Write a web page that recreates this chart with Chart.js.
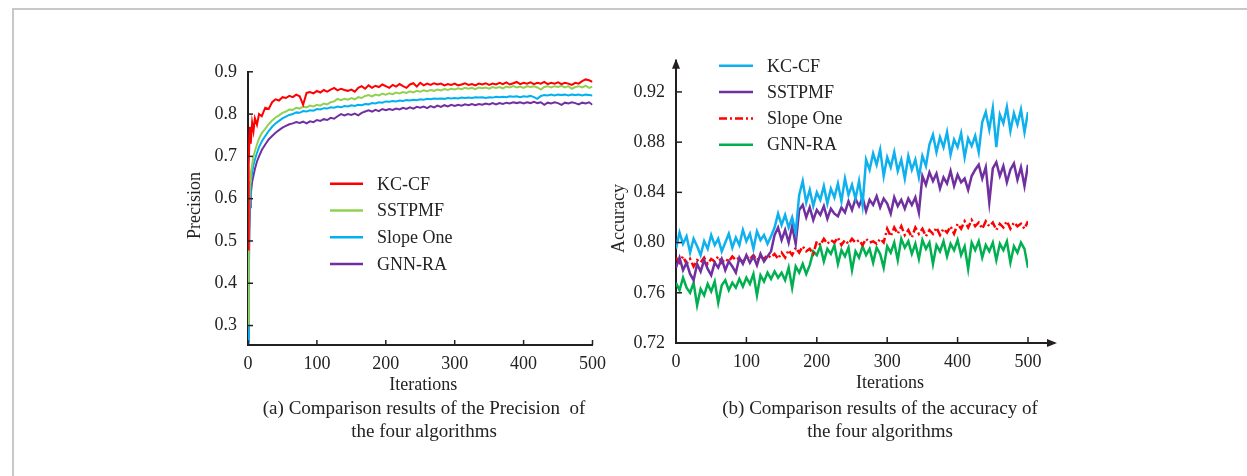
<!DOCTYPE html>
<html>
<head>
<meta charset="utf-8">
<script src="https://cdn.jsdelivr.net/npm/chart.js@4.4.1/dist/chart.umd.min.js"></script>
<style>
  body { margin: 0; background: #fff; width: 1247px; height: 476px; overflow: hidden; position: relative; }
  .frame { position: absolute; left: 12px; top: 8px; width: 1300px; height: 500px; border-top: 2px solid #c8c8c8; border-left: 2px solid #c8c8c8; }
  canvas { position: absolute; }
  .cap { position: absolute; width: 420px; text-align: center; font: 19px "Liberation Serif", serif; line-height: 23px; color: #222; white-space: pre; }
</style>
</head>
<body>
<div class="frame"></div>
<canvas id="precChart" width="434" height="350" style="left:180px;top:50px"></canvas>
<canvas id="accChart" width="470" height="360" style="left:600px;top:40px"></canvas>
<div class="cap" style="left:214px;top:396px">(a) Comparison results of the Precision  of
the four algorithms</div>
<div class="cap" style="left:670px;top:396px">(b) Comparison results of the accuracy of
the four algorithms</div>
<script>
// ---- (a) precision ----
const precIters = [0, 1, 2, 3, 4, 6, 8, 10, 13, 16, 20, 25, 30, 35, 40,
  45, 50, 55, 60, 65, 70, 75, 80, 85, 90, 95, 100, 105, 110, 115, 120, 125, 130, 135, 140, 145,
  150, 155, 160, 165, 170, 175, 180, 185, 190, 195, 200, 205, 210, 215, 220, 225, 230, 235, 240, 245,
  250, 255, 260, 265, 270, 275, 280, 285, 290, 295, 300, 305, 310, 315, 320, 325, 330, 335, 340, 345,
  350, 355, 360, 365, 370, 375, 380, 385, 390, 395, 400, 405, 410, 415, 420, 425, 430, 435, 440, 445,
  450, 455, 460, 465, 470, 475, 480, 485, 490, 495, 500];

const precKCCF = [0.48, 0.68, 0.74, 0.77, 0.73, 0.78, 0.76, 0.79, 0.775, 0.80, 0.795, 0.815, 0.812, 0.828, 0.835,
  0.832, 0.840, 0.838, 0.843, 0.840, 0.846, 0.842, 0.822, 0.850, 0.852, 0.849, 0.855, 0.851, 0.857, 0.853, 0.858, 0.862, 0.856, 0.860, 0.857, 0.855,
  0.858, 0.853, 0.862, 0.866, 0.860, 0.868, 0.862, 0.867, 0.864, 0.870, 0.866, 0.862, 0.869, 0.865, 0.871, 0.866, 0.862, 0.870, 0.873, 0.865,
  0.874, 0.868, 0.872, 0.869, 0.873, 0.870, 0.872, 0.868, 0.871, 0.869, 0.872, 0.868, 0.870, 0.873, 0.869, 0.871, 0.868, 0.872, 0.870, 0.873,
  0.869, 0.872, 0.870, 0.874, 0.871, 0.875, 0.870, 0.873, 0.876, 0.871, 0.874, 0.872, 0.875, 0.871, 0.874, 0.872, 0.876, 0.871, 0.874, 0.872,
  0.875, 0.871, 0.874, 0.872, 0.869, 0.874, 0.872, 0.878, 0.882, 0.880, 0.876];

const precSSTPMF = [0.30, 0.52, 0.60, 0.64, 0.66, 0.68, 0.70, 0.712, 0.728, 0.742, 0.755, 0.765, 0.776, 0.785, 0.792,
  0.797, 0.803, 0.806, 0.811, 0.810, 0.815, 0.813, 0.818, 0.816, 0.820, 0.818, 0.822, 0.820, 0.825, 0.823, 0.828, 0.830, 0.836, 0.833, 0.836, 0.834,
  0.838, 0.835, 0.840, 0.838, 0.843, 0.845, 0.842, 0.846, 0.844, 0.848, 0.846, 0.849, 0.847, 0.851, 0.849, 0.852, 0.850, 0.854, 0.851, 0.855,
  0.853, 0.856, 0.854, 0.857, 0.855, 0.858, 0.856, 0.859, 0.857, 0.860, 0.858, 0.861, 0.859, 0.862, 0.860, 0.862, 0.859, 0.863, 0.861, 0.863,
  0.860, 0.864, 0.862, 0.864, 0.861, 0.865, 0.863, 0.866, 0.863, 0.865, 0.862, 0.866, 0.864, 0.866, 0.863, 0.858, 0.864, 0.866, 0.863, 0.866,
  0.864, 0.867, 0.863, 0.866, 0.860, 0.864, 0.866, 0.863, 0.867, 0.862, 0.865];

const precSlopeOne = [0.26, 0.42, 0.56, 0.61, 0.64, 0.66, 0.68, 0.692, 0.708, 0.722, 0.735, 0.748, 0.760, 0.770, 0.778,
  0.784, 0.790, 0.794, 0.798, 0.800, 0.804, 0.803, 0.807, 0.806, 0.809, 0.808, 0.812, 0.811, 0.814, 0.813, 0.816, 0.815, 0.818, 0.816, 0.819, 0.818,
  0.821, 0.819, 0.822, 0.821, 0.824, 0.823, 0.826, 0.825, 0.828, 0.827, 0.830, 0.829, 0.831, 0.830, 0.832, 0.831, 0.833, 0.832, 0.834, 0.833,
  0.835, 0.834, 0.836, 0.835, 0.837, 0.836, 0.837, 0.836, 0.838, 0.837, 0.838, 0.837, 0.839, 0.838, 0.839, 0.838, 0.840, 0.839, 0.840, 0.838,
  0.840, 0.839, 0.841, 0.840, 0.841, 0.840, 0.842, 0.841, 0.842, 0.840, 0.842, 0.841, 0.843, 0.840, 0.836, 0.843, 0.845, 0.844, 0.846, 0.844,
  0.846, 0.845, 0.846, 0.844, 0.846, 0.845, 0.846, 0.844, 0.846, 0.845, 0.844];

const precGNNRA = [0.26, 0.38, 0.52, 0.58, 0.61, 0.64, 0.655, 0.67, 0.688, 0.700, 0.715, 0.728, 0.740, 0.748, 0.756,
  0.762, 0.768, 0.772, 0.776, 0.778, 0.781, 0.779, 0.782, 0.778, 0.783, 0.781, 0.786, 0.784, 0.788, 0.786, 0.791, 0.789, 0.795, 0.800, 0.797, 0.800,
  0.798, 0.801, 0.797, 0.803, 0.806, 0.809, 0.806, 0.810, 0.807, 0.812, 0.809, 0.812, 0.810, 0.813, 0.811, 0.815, 0.812, 0.816, 0.813, 0.817,
  0.815, 0.818, 0.814, 0.819, 0.816, 0.820, 0.817, 0.821, 0.818, 0.822, 0.819, 0.822, 0.820, 0.823, 0.821, 0.824, 0.821, 0.824, 0.822, 0.825,
  0.823, 0.826, 0.823, 0.826, 0.824, 0.827, 0.825, 0.828, 0.826, 0.828, 0.825, 0.828, 0.826, 0.829, 0.826, 0.828, 0.822, 0.827, 0.825, 0.828,
  0.826, 0.822, 0.827, 0.825, 0.828, 0.826, 0.823, 0.827, 0.825, 0.828, 0.822];

// ---- (b) accuracy ----
const accIters = [0, 5, 10, 15, 20, 25, 30, 35, 40, 45, 50, 55, 60, 65, 70, 75, 80, 85, 90, 95,
  100, 105, 110, 115, 120, 125, 130, 135, 140, 145, 150, 155, 160, 165, 170, 175, 180, 185, 190, 195,
  200, 205, 210, 215, 220, 225, 230, 235, 240, 245, 250, 255, 260, 265, 270, 275, 280, 285, 290, 295,
  300, 305, 310, 315, 320, 325, 330, 335, 340, 345, 350, 355, 360, 365, 370, 375, 380, 385, 390, 395,
  400, 405, 410, 415, 420, 425, 430, 435, 440, 445, 450, 455, 460, 465, 470, 475, 480, 485, 490, 495, 500];

const accKCCF = [0.795, 0.808, 0.799, 0.805, 0.792, 0.803, 0.797, 0.790, 0.801, 0.795, 0.806, 0.798, 0.803, 0.793, 0.800, 0.807, 0.796, 0.804, 0.798, 0.810,
  0.801, 0.807, 0.795, 0.809, 0.802, 0.806, 0.799, 0.805, 0.812, 0.823, 0.814, 0.822, 0.812, 0.820, 0.808, 0.838, 0.849, 0.832, 0.842, 0.829,
  0.840, 0.834, 0.845, 0.831, 0.843, 0.836, 0.847, 0.833, 0.851, 0.838, 0.846, 0.835, 0.849, 0.830, 0.866, 0.858, 0.871, 0.862, 0.874, 0.853,
  0.868, 0.860, 0.872, 0.857, 0.866, 0.851, 0.869, 0.858, 0.866, 0.852, 0.869, 0.861, 0.878, 0.886, 0.872, 0.884, 0.876, 0.888, 0.870, 0.882,
  0.876, 0.887, 0.868, 0.883, 0.877, 0.885, 0.872, 0.896, 0.904, 0.890, 0.907, 0.876, 0.902, 0.895, 0.908, 0.889, 0.903, 0.894, 0.906, 0.888, 0.904];

const accSSTPMF = [0.780, 0.788, 0.778, 0.784, 0.775, 0.770, 0.783, 0.777, 0.786, 0.779, 0.774, 0.784, 0.780, 0.787, 0.778, 0.785, 0.781, 0.776, 0.788, 0.783,
  0.790, 0.784, 0.789, 0.782, 0.791, 0.785, 0.789, 0.793, 0.806, 0.812, 0.802, 0.810, 0.800, 0.813, 0.799, 0.826, 0.830, 0.820, 0.828, 0.818,
  0.826, 0.822, 0.829, 0.819, 0.827, 0.823, 0.821, 0.828, 0.824, 0.833, 0.826, 0.835, 0.829, 0.836, 0.825, 0.834, 0.830, 0.837, 0.828, 0.835,
  0.831, 0.823, 0.836, 0.829, 0.834, 0.827, 0.835, 0.830, 0.836, 0.824, 0.853, 0.846, 0.856, 0.849, 0.855, 0.843, 0.852, 0.847, 0.857, 0.845,
  0.854, 0.848, 0.851, 0.842, 0.853, 0.858, 0.862, 0.851, 0.860, 0.832, 0.859, 0.864, 0.853, 0.861, 0.848, 0.858, 0.863, 0.850, 0.860, 0.845, 0.862];

const accSlopeOne = [0.788, 0.784, 0.789, 0.783, 0.787, 0.781, 0.786, 0.784, 0.788, 0.783, 0.787, 0.785, 0.789, 0.784, 0.787, 0.785, 0.789, 0.786, 0.788, 0.784,
  0.789, 0.787, 0.790, 0.786, 0.789, 0.787, 0.790, 0.788, 0.791, 0.787, 0.792, 0.788, 0.794, 0.790, 0.796, 0.792, 0.797, 0.793, 0.795, 0.791,
  0.801, 0.798, 0.803, 0.799, 0.802, 0.800, 0.804, 0.798, 0.802, 0.799, 0.803, 0.800, 0.802, 0.798, 0.803, 0.800, 0.801, 0.799, 0.803, 0.800,
  0.811, 0.805, 0.812, 0.807, 0.813, 0.806, 0.810, 0.804, 0.812, 0.807, 0.811, 0.805, 0.810, 0.807, 0.812, 0.806, 0.811, 0.808, 0.813, 0.807,
  0.815, 0.811, 0.817, 0.812, 0.818, 0.813, 0.816, 0.811, 0.817, 0.813, 0.816, 0.810, 0.815, 0.812, 0.817, 0.811, 0.816, 0.813, 0.815, 0.811, 0.817];

const accGNNRA = [0.768, 0.762, 0.772, 0.764, 0.760, 0.768, 0.750, 0.763, 0.758, 0.767, 0.761, 0.769, 0.752, 0.766, 0.770, 0.762, 0.768, 0.764, 0.771, 0.765,
  0.772, 0.767, 0.775, 0.758, 0.774, 0.769, 0.776, 0.771, 0.777, 0.772, 0.776, 0.770, 0.780, 0.764, 0.781, 0.776, 0.783, 0.775, 0.782, 0.793,
  0.790, 0.797, 0.785, 0.795, 0.791, 0.798, 0.783, 0.794, 0.789, 0.796, 0.778, 0.793, 0.788, 0.797, 0.790, 0.795, 0.784, 0.796, 0.791, 0.780,
  0.797, 0.792, 0.800, 0.786, 0.803, 0.796, 0.801, 0.791, 0.799, 0.787, 0.802, 0.795, 0.800, 0.783, 0.798, 0.793, 0.801, 0.789, 0.799, 0.794,
  0.802, 0.790, 0.797, 0.779, 0.800, 0.794, 0.801, 0.788, 0.798, 0.793, 0.800, 0.786, 0.799, 0.794, 0.801, 0.784, 0.797, 0.792, 0.800, 0.795, 0.780];

const xTicks = [0, 100, 200, 300, 400, 500];
const precYTicks = [0.3, 0.4, 0.5, 0.6, 0.7, 0.8, 0.9];
const accYTicks = [0.72, 0.76, 0.80, 0.84, 0.88, 0.92];

const FONT = '"Liberation Serif", "Times New Roman", serif';
const INK = '#231f20';

const toPoints = (xs, ys) => xs.map((x, i) => ({ x, y: ys[i] }));

// legend drawn inside the plot, MATLAB style
const legendBox = {
  id: 'legendBox',
  afterDatasetsDraw(chart, args, opts) {
    const { ctx, chartArea: a } = chart;
    ctx.save();
    chart.data.datasets.forEach((ds, i) => {
      const y = a.top + opts.top + i * opts.row;
      const x0 = a.left + opts.left;
      ctx.beginPath();
      ctx.strokeStyle = ds.borderColor;
      ctx.lineWidth = 2.5;
      ctx.setLineDash(ds.borderDash || []);
      ctx.moveTo(x0, y);
      ctx.lineTo(x0 + opts.len, y);
      ctx.stroke();
      ctx.setLineDash([]);
      ctx.fillStyle = '#222';
      ctx.font = '18px ' + FONT;
      ctx.textBaseline = 'middle';
      ctx.fillText(ds.label, x0 + opts.len + opts.gap, y + 1);
    });
    ctx.restore();
  }
};

// axis titles, inner tick marks and arrow heads
const axisDecor = {
  id: 'axisDecor',
  afterDraw(chart, args, opts) {
    const { ctx, chartArea: a, scales: { x, y } } = chart;
    ctx.save();
    ctx.strokeStyle = INK;
    ctx.fillStyle = INK;
    ctx.lineWidth = 1.5;
    x.ticks.forEach(t => {
      const px = x.getPixelForValue(t.value);
      ctx.beginPath();
      ctx.moveTo(px, a.bottom);
      ctx.lineTo(px, a.bottom - opts.tick);
      ctx.stroke();
    });
    y.ticks.forEach(t => {
      const py = y.getPixelForValue(t.value);
      ctx.beginPath();
      ctx.moveTo(a.left, py);
      ctx.lineTo(a.left + opts.tick, py);
      ctx.stroke();
    });
    if (opts.arrows) {
      ctx.lineWidth = 2;
      ctx.beginPath();
      ctx.moveTo(a.left, a.top);
      ctx.lineTo(a.left, a.top - 2);
      ctx.moveTo(a.right, a.bottom);
      ctx.lineTo(a.right + 22, a.bottom);
      ctx.stroke();
      ctx.beginPath();
      ctx.moveTo(a.left, a.top - 3);
      ctx.lineTo(a.left - 4, a.top + 7);
      ctx.lineTo(a.left + 4, a.top + 7);
      ctx.closePath();
      ctx.fill();
      ctx.beginPath();
      ctx.moveTo(a.right + 29, a.bottom);
      ctx.lineTo(a.right + 19, a.bottom - 4);
      ctx.lineTo(a.right + 19, a.bottom + 4);
      ctx.closePath();
      ctx.fill();
    }
    ctx.fillStyle = '#222';
    ctx.font = '18px ' + FONT;
    ctx.textAlign = 'center';
    ctx.textBaseline = 'middle';
    ctx.fillText(opts.xTitle, (a.left + a.right) / 2 + opts.xShift, a.bottom + opts.xDrop);
    ctx.translate(a.left - opts.yGap, (a.top + a.bottom) / 2 + opts.yShift);
    ctx.rotate(-Math.PI / 2);
    ctx.fillText(opts.yTitle, 0, 0);
    ctx.restore();
  }
};

function makeScales(yMin, yMax, yTicks, yDigits, yWidth, xHeight) {
  return {
    x: {
      type: 'linear', min: 0, max: 500,
      afterBuildTicks: s => { s.ticks = xTicks.map(v => ({ value: v })); },
      afterFit: s => { s.height = xHeight; },
      grid: { display: false, drawTicks: false },
      border: { display: true, color: INK, width: 2 },
      ticks: { padding: 8, color: '#222', font: { family: FONT, size: 18 } }
    },
    y: {
      min: yMin, max: yMax,
      afterBuildTicks: s => { s.ticks = yTicks.map(v => ({ value: v })); },
      afterFit: s => { s.width = yWidth; },
      grid: { display: false, drawTicks: false },
      border: { display: true, color: INK, width: 2 },
      ticks: { padding: 11, color: '#222', font: { family: FONT, size: 18 }, callback: v => v.toFixed(yDigits) }
    }
  };
}

const baseLine = { pointRadius: 0, tension: 0, fill: false };

new Chart(document.getElementById('precChart'), {
  type: 'line',
  data: {
    datasets: [
      { ...baseLine, label: 'KC-CF', data: toPoints(precIters, precKCCF), borderColor: '#ff0000', borderWidth: 2 },
      { ...baseLine, label: 'SSTPMF', data: toPoints(precIters, precSSTPMF), borderColor: '#92d050', borderWidth: 2 },
      { ...baseLine, label: 'Slope One', data: toPoints(precIters, precSlopeOne), borderColor: '#00b0f0', borderWidth: 2 },
      { ...baseLine, label: 'GNN-RA', data: toPoints(precIters, precGNNRA), borderColor: '#7030a0', borderWidth: 2 }
    ]
  },
  options: {
    responsive: false,
    animation: false,
    layout: { padding: { top: 16, right: 16, left: 0, bottom: 0 } },
    scales: makeScales(0.254, 0.9, precYTicks, 1, 68, 55),
    plugins: {
      legend: { display: false },
      tooltip: { enabled: false },
      legendBox: { left: 82, top: 112, row: 26.7, len: 33, gap: 14 },
      axisDecor: { tick: 5, arrows: false, xTitle: 'Iterations', xShift: 3, xDrop: 40, yTitle: 'Precision', yGap: 53, yShift: -3 }
    }
  },
  plugins: [legendBox, axisDecor]
});

new Chart(document.getElementById('accChart'), {
  type: 'line',
  data: {
    datasets: [
      { ...baseLine, label: 'KC-CF', data: toPoints(accIters, accKCCF), borderColor: '#0fb0ee', borderWidth: 2.5 },
      { ...baseLine, label: 'SSTPMF', data: toPoints(accIters, accSSTPMF), borderColor: '#7030a0', borderWidth: 2.5 },
      { ...baseLine, label: 'Slope One', data: toPoints(accIters, accSlopeOne), borderColor: '#ff0000', borderWidth: 2.5, borderDash: [8, 3, 2, 3] },
      { ...baseLine, label: 'GNN-RA', data: toPoints(accIters, accGNNRA), borderColor: '#00b050', borderWidth: 2.5 }
    ]
  },
  options: {
    responsive: false,
    animation: false,
    layout: { padding: { top: 20, right: 42, left: 0, bottom: 0 } },
    scales: makeScales(0.72, 0.944, accYTicks, 2, 76, 57),
    plugins: {
      legend: { display: false },
      tooltip: { enabled: false },
      legendBox: { left: 43, top: 4, row: 26.3, len: 34, gap: 14 },
      axisDecor: { tick: 6, arrows: true, xTitle: 'Iterations', xShift: 38, xDrop: 40, yTitle: 'Accuracy', yGap: 57, yShift: 16 }
    }
  },
  plugins: [legendBox, axisDecor]
});
</script>
</body>
</html>
